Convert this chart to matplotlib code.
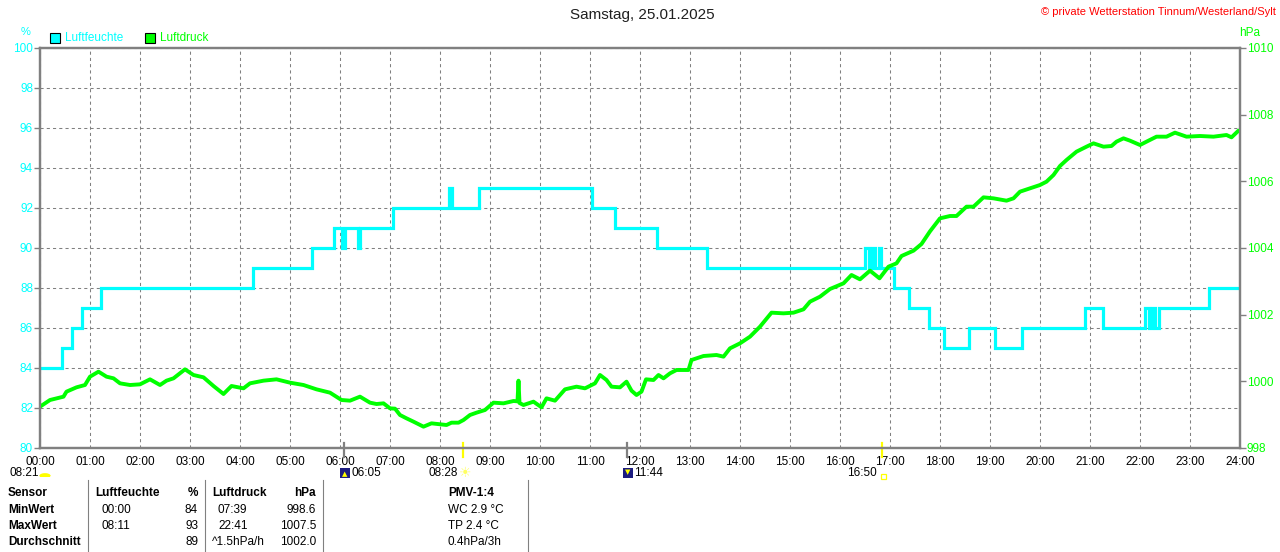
import matplotlib.pyplot as plt
import matplotlib.transforms as mtransforms
from matplotlib.patches import Rectangle, Wedge
import numpy as np

plt.rcParams['font.family'] = ['Liberation Sans', 'DejaVu Sans']

# Luftfeuchte (%) als Stufen: Zeitpunkt der Aenderung (h) und neuer Wert
hum_t = [0, 0.43, 0.63, 0.83, 1.21, 4.25, 5.43, 5.88, 6.03, 6.10, 6.35, 6.40, 7.05,
         8.18, 8.24, 8.79, 11.03, 11.49, 12.33, 13.33, 16.50, 16.57, 16.63, 16.70,
         16.77, 16.83, 17.07, 17.37, 17.78, 18.07, 18.57, 19.10, 19.65, 20.89, 21.25,
         22.10, 22.17, 22.23, 22.30, 22.37, 23.38, 24.0]
hum_v = [84, 85, 86, 87, 88, 89, 90, 91, 90, 91, 90, 91, 92,
         93, 92, 93, 92, 91, 90, 89, 90, 89, 90, 89,
         90, 89, 88, 87, 86, 85, 86, 85, 86, 87, 86,
         87, 86, 87, 86, 87, 88, 88]

# Luftdruck (hPa)
pres_t = [0, 0.2, 0.47, 0.53, 0.73, 0.9, 1.0, 1.17, 1.33, 1.47, 1.6, 1.8, 2.0, 2.2, 2.4,
          2.53, 2.67, 2.9, 3.07, 3.27, 3.47, 3.67, 3.83, 4.07, 4.2, 4.47, 4.73, 5.0,
          5.27, 5.53, 5.8, 6.03, 6.2, 6.4, 6.6, 6.73, 6.87, 7.0, 7.1, 7.2, 7.33, 7.47,
          7.67, 7.83, 8.0, 8.13, 8.23, 8.37, 8.47, 8.6, 8.73, 8.9, 9.07, 9.27, 9.47,
          9.55, 9.57, 9.59, 9.67, 9.87, 10.03, 10.13, 10.3, 10.5, 10.73, 10.9, 11.1,
          11.2, 11.33, 11.43, 11.6, 11.73, 11.83, 11.93, 12.03, 12.12, 12.27, 12.37,
          12.47, 12.6, 12.73, 12.97, 13.03, 13.27, 13.53, 13.67, 13.8, 14.0, 14.2,
          14.4, 14.63, 14.87, 15.07, 15.27, 15.4, 15.6, 15.8, 16.07, 16.23, 16.4,
          16.6, 16.79, 16.97, 17.13, 17.23, 17.47, 17.63, 17.8, 18.0, 18.2, 18.33,
          18.53, 18.67, 18.87, 19.07, 19.33, 19.47, 19.6, 19.8, 20.0, 20.13, 20.27,
          20.4, 20.53, 20.73, 20.93, 21.07, 21.27, 21.43, 21.53, 21.67, 21.8, 22.0,
          22.13, 22.33, 22.53, 22.7, 22.93, 23.2, 23.47, 23.73, 23.83, 23.97, 24.0]
pres_v = [999.24, 999.44, 999.54, 999.69, 999.82, 999.89, 1000.14, 1000.29, 1000.14,
          1000.09, 999.94, 999.89, 999.91, 1000.06, 999.89, 1000.02, 1000.09, 1000.36,
          1000.19, 1000.12, 999.86, 999.62, 999.86, 999.79, 999.94, 1000.02, 1000.06,
          999.96, 999.89, 999.76, 999.66, 999.44, 999.42, 999.54, 999.36, 999.32,
          999.34, 999.19, 999.18, 998.99, 998.89, 998.79, 998.64, 998.74, 998.71,
          998.69, 998.76, 998.76, 998.84, 998.99, 999.06, 999.14, 999.36, 999.34,
          999.41, 999.40, 1000.02, 999.35, 999.29, 999.39, 999.22, 999.49, 999.42,
          999.76, 999.84, 999.79, 999.94, 1000.19, 1000.04, 999.84, 999.82, 999.99,
          999.72, 999.59, 999.69, 1000.06, 1000.04, 1000.19, 1000.09, 1000.24,
          1000.34, 1000.34, 1000.64, 1000.76, 1000.79, 1000.74, 1000.99, 1001.14,
          1001.34, 1001.64, 1002.06, 1002.04, 1002.06, 1002.16, 1002.39, 1002.54,
          1002.77, 1002.94, 1003.19, 1003.06, 1003.32, 1003.09, 1003.44, 1003.54,
          1003.76, 1003.92, 1004.12, 1004.50, 1004.89, 1004.96, 1004.96, 1005.24,
          1005.24, 1005.52, 1005.49, 1005.42, 1005.49, 1005.69, 1005.79, 1005.89,
          1005.99, 1006.19, 1006.46, 1006.64, 1006.89, 1007.04, 1007.14, 1007.04,
          1007.06, 1007.19, 1007.29, 1007.22, 1007.09, 1007.19, 1007.34, 1007.34,
          1007.46, 1007.34, 1007.36, 1007.34, 1007.39, 1007.32, 1007.52, 1007.52]

hour_labels = ['%02d:00' % h for h in range(25)]

# Sonnenereignisse: (Zeit in h, Beschriftung, Farbe der Markierung)
sun_events = [(6 + 5 / 60, '06:05', '#808080'), (8 + 28 / 60, '08:28', '#ffff00'),
              (11 + 44 / 60, '11:44', '#808080'), (16 + 50 / 60, '16:50', '#ffff00')]

table_rows = [
    ['Sensor', 'Luftfeuchte', '%', 'Luftdruck', 'hPa', 'PMV-1:4'],
    ['MinWert', '00:00', '84', '07:39', '998.6', 'WC 2.9 \u00b0C'],
    ['MaxWert', '08:11', '93', '22:41', '1007.5', 'TP 2.4 \u00b0C'],
    ['Durchschnitt', '', '89', '^1.5hPa/h', '1002.0', '0.4hPa/3h'],
]

W, H = 1280, 552
CYAN = '#00ffff'
GREEN = '#00ff00'
GRAY = '#808080'
FS = 8.5

fig = plt.figure(figsize=(W / 100, H / 100), dpi=100)
fig.patch.set_facecolor('white')


def fx(x):
    return x / W


def fy(y):
    return 1 - y / H


ax = fig.add_axes([fx(40), fy(448), 1200 / W, 400 / H])
ax2 = ax.twinx()

ax.plot(hum_t, hum_v, color=CYAN, lw=2.3, drawstyle='steps-post', solid_joinstyle='miter')
ax2.plot(pres_t, pres_v, color=GREEN, lw=2.8)

ax.set_xlim(0, 24)
ax.set_ylim(80, 100)
ax2.set_ylim(998, 1010)

ax.set_xticks(range(25))
ax.set_xticklabels(hour_labels)
ax.set_yticks(range(80, 101, 2))
ax2.set_yticks(range(998, 1011, 2))

ax.grid(True, color=GRAY, lw=0.75, linestyle=(0, (3, 3)))
ax.tick_params(axis='x', length=0, pad=5.5, labelsize=FS, labelcolor='black')
ax.tick_params(axis='y', length=4, width=1, color=GRAY, pad=1, labelsize=FS, labelcolor=CYAN)
ax2.tick_params(axis='y', length=4, width=1, color=GRAY, pad=1, labelsize=FS, labelcolor=GREEN)

for a in (ax, ax2):
    for s in a.spines.values():
        s.set_color(GRAY)
        s.set_linewidth(1.6)

# Markierungen fuer Sonnenauf-/untergang an der x-Achse
trans = mtransforms.blended_transform_factory(ax.transData, ax.transAxes)
for t, lab, col in sun_events:
    ax.plot([t, t], [0.0125, -0.0225], color=col, lw=1.6, transform=trans, clip_on=False)

# Titel und Beschriftungen oben
fig.text(fx(642), fy(15), 'Samstag, 25.01.2025', ha='center', va='center', fontsize=11, color='#202020')
fig.text(fx(1276), fy(12), '\u00a9 private Wetterstation Tinnum/Westerland/Sylt', ha='right', va='center',
         fontsize=8, color='red')
fig.text(fx(26), fy(32), '%', ha='center', va='center', fontsize=8, color=CYAN)
fig.text(fx(1250), fy(33), 'hPa', ha='center', va='center', fontsize=FS, color=GREEN)

# Legende
for x0, col, lab in [(50, CYAN, 'Luftfeuchte'), (145, GREEN, 'Luftdruck')]:
    fig.patches.append(Rectangle((fx(x0), fy(43)), 10 / W, 10 / H, transform=fig.transFigure,
                                 facecolor=col, edgecolor='black', lw=0.8))
    fig.text(fx(x0 + 15), fy(38), lab, ha='left', va='center', fontsize=FS, color=col)

# Zeitangaben unter der Achse
fig.text(fx(10), fy(473), '08:21', ha='left', va='center', fontsize=FS)
fig.patches.append(Wedge((fx(45), fy(476)), 5 / W, 0, 180, transform=fig.transFigure,
                         facecolor='#ffff00', edgecolor='#ffff00'))
fig.patches.append(Rectangle((fx(40), fy(477)), 10 / W, 2 / H, transform=fig.transFigure,
                             facecolor='#ffff00', edgecolor='none'))

# Sonnenaufgang 06:05
fig.patches.append(Rectangle((fx(340), fy(478)), 10 / W, 10 / H, transform=fig.transFigure,
                             facecolor='#1c1c80', edgecolor='none'))
fig.text(fx(345), fy(474), '\u25b2', ha='center', va='center', fontsize=5, color='#ffff00',
         family=['DejaVu Sans'])
fig.text(fx(351), fy(473), '06:05', ha='left', va='center', fontsize=FS)

# Sonnenhoechststand 08:28 mit Sonne
fig.text(fx(458), fy(473), '08:28', ha='right', va='center', fontsize=FS)
fig.text(fx(465), fy(473), '\u2600', ha='center', va='center', fontsize=10, color='#ffff60',
         family=['DejaVu Sans'])

# Sonnenuntergang 11:44
fig.patches.append(Rectangle((fx(623), fy(478)), 10 / W, 10 / H, transform=fig.transFigure,
                             facecolor='#1c1c80', edgecolor='none'))
fig.text(fx(628), fy(472), '\u25bc', ha='center', va='center', fontsize=5, color='#ffff00',
         family=['DejaVu Sans'])
fig.text(fx(634), fy(473), '11:44', ha='left', va='center', fontsize=FS)

# 16:50
fig.text(fx(877), fy(473), '16:50', ha='right', va='center', fontsize=FS)
fig.patches.append(Rectangle((fx(881), fy(479)), 5 / W, 5 / H, transform=fig.transFigure,
                             facecolor='none', edgecolor='#ffff00', lw=0.9))

# Tabelle unten
row_y = [493, 510, 526, 542]
for xl in (88, 205, 323, 528):
    fig.add_artist(plt.Line2D([fx(xl), fx(xl)], [fy(480), fy(552)], transform=fig.transFigure,
                              color=GRAY, lw=0.8))
for i, row in enumerate(table_rows):
    y = fy(row_y[i])
    bold = 'bold' if i == 0 else 'normal'
    fig.text(fx(8), y, row[0], ha='left', va='center', fontsize=FS, weight='bold')
    fig.text(fx(95 if i == 0 else 101), y, row[1], ha='left', va='center', fontsize=FS, weight=bold)
    fig.text(fx(198), y, row[2], ha='right', va='center', fontsize=FS, weight=bold)
    fig.text(fx(212 if i in (0, 3) else 218), y, row[3], ha='left', va='center', fontsize=FS, weight=bold)
    fig.text(fx(316), y, row[4], ha='right', va='center', fontsize=FS, weight=bold)
    fig.text(fx(448), y, row[5], ha='left', va='center', fontsize=FS, weight=bold)

fig.savefig('out.png', dpi=100)
